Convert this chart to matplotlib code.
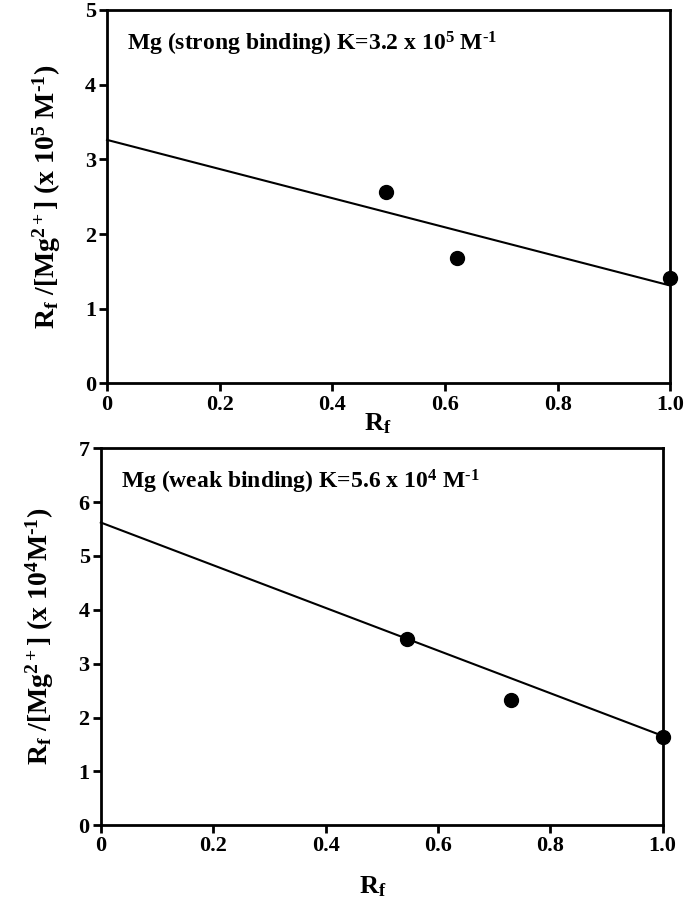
import matplotlib
matplotlib.use("Agg")
import matplotlib.pyplot as plt

plt.rcParams['font.family'] = ['Liberation Serif', 'DejaVu Serif']
plt.rcParams['font.weight'] = 'bold'
plt.rcParams['mathtext.fontset'] = 'custom'
plt.rcParams['mathtext.rm'] = 'Liberation Serif:bold'
plt.rcParams['mathtext.it'] = 'Liberation Serif:bold'
plt.rcParams['mathtext.bf'] = 'Liberation Serif:bold'

# strong binding panel
strong_x = [0.495, 0.622, 1.0]
strong_y = [2.56, 1.68, 1.41]
strong_fit_x = [0.0, 1.0]
strong_fit_y = [3.26, 1.31]

# weak binding panel
weak_x = [0.545, 0.73, 1.0]
weak_y = [3.46, 2.33, 1.63]
weak_fit_x = [0.0, 1.0]
weak_fit_y = [5.62, 1.66]

x_ticks = [0, 0.2, 0.4, 0.6, 0.8, 1.0]
x_ticklabels = ["0", "0.2", "0.4", "0.6", "0.8", "1.0"]

fig = plt.figure(figsize=(6.86, 9.0), dpi=100)
ax1 = fig.add_axes([0.156, 0.574, 0.821, 0.415])
ax2 = fig.add_axes([0.147, 0.083, 0.819, 0.419])


def style_axis(ax, ymax):
    ax.set_xlim(0, 1.0)
    ax.set_ylim(0, ymax)
    ax.set_xticks(x_ticks)
    ax.set_xticklabels(x_ticklabels)
    ax.set_yticks(range(0, ymax + 1))
    for s in ax.spines.values():
        s.set_linewidth(2)
    ax.tick_params(direction='out', length=6, width=2, labelsize=16, top=False, right=False, pad=2)
    for lab in ax.get_xticklabels() + ax.get_yticklabels():
        lab.set_fontweight('bold')


ax1.plot(strong_fit_x, strong_fit_y, color='black', lw=1.5, clip_on=False)
ax1.plot(strong_x, strong_y, 'o', color='black', ms=10, clip_on=False)
style_axis(ax1, 5)
ax1.set_xlabel(r"R$_\mathrm{f}$", fontsize=19, fontweight='bold')
ax1.xaxis.set_label_coords(0.48, -0.075)
ax1.set_ylabel(r"R$_\mathrm{f}$ /[Mg$^{2+}$] (x 10$^5$ M$^{\text{-1}}$)", fontsize=20,
               fontweight='bold', labelpad=16)
ax1.text(0.035, 0.91, r"Mg (strong binding) K=3.2 x 10$^5$ M$^{\text{-1}}$", transform=ax1.transAxes,
         fontsize=17, fontweight='bold', va='center')

ax2.plot(weak_fit_x, weak_fit_y, color='black', lw=1.5, clip_on=False)
ax2.plot(weak_x, weak_y, 'o', color='black', ms=10, clip_on=False)
style_axis(ax2, 7)
ax2.set_xlabel(r"R$_\mathrm{f}$", fontsize=19, fontweight='bold')
ax2.xaxis.set_label_coords(0.484, -0.13)
ax2.set_ylabel(r"R$_\mathrm{f}$ /[Mg$^{2+}$] (x 10$^4$M$^{\text{-1}}$)", fontsize=20,
               fontweight='bold', labelpad=16)
ax2.text(0.035, 0.91, r"Mg (weak binding) K=5.6 x 10$^4$ M$^{\text{-1}}$", transform=ax2.transAxes,
         fontsize=17, fontweight='bold', va='center')

fig.savefig("out.png", dpi=100)
